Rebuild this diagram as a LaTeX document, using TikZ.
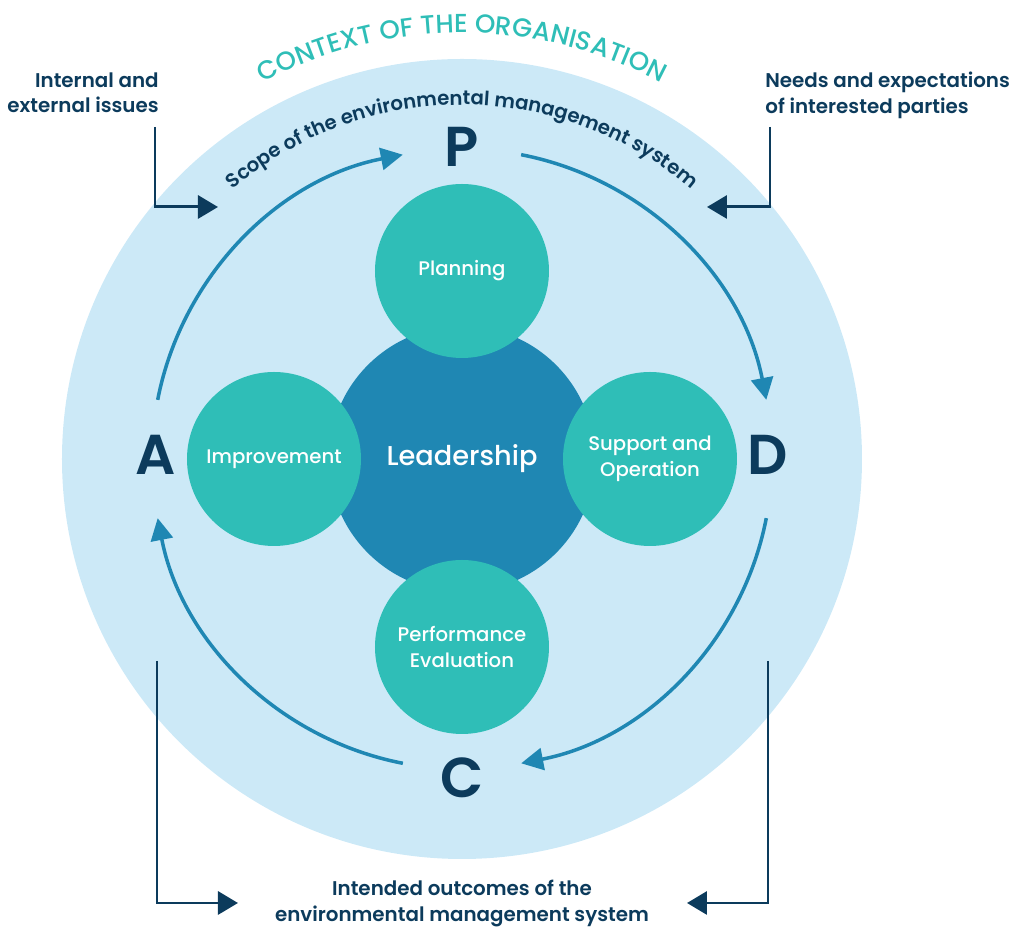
\documentclass[tikz,border=0pt]{standalone}
\usepackage{fontspec}
\setmainfont{Poppins}[BoldFont={Poppins SemiBold}]
\newfontfamily\poppinsmedium{Poppins Medium}
\usepackage{tikz}
\usetikzlibrary{arrows.meta,decorations.text}
\definecolor{skyback}{HTML}{CCE9F7}
\definecolor{cyteal}{HTML}{2FBEB7}
\definecolor{leadblue}{HTML}{1F87B3}
\definecolor{navy}{HTML}{0C3B5C}
\tikzset{>={Triangle[length=4mm,width=4.6mm]}}

\begin{document}
\begin{tikzpicture}[
	phasenode/.style={circle,fill=cyteal,minimum size=3.48cm,inner sep=0pt,text=white,align=center,font=\fontsize{11.2}{14.5}\selectfont\poppinsmedium},
	pdcaletter/.style={text=navy,inner sep=0pt,font=\fontsize{32}{32}\selectfont\bfseries},
	sidelabel/.style={text=navy,inner sep=0pt,font=\fontsize{11.3}{14.5}\selectfont\bfseries},
	pdcaarrow/.style={->,leadblue,line width=2pt,>={Triangle[length=4.4mm,width=4.4mm]}},
	bracketarrow/.style={->,navy,line width=1.7pt}]
			\useasboundingbox (-9.24,-9.36) rectangle (11.1,9.18);
			\node (context) at (0,0) [circle,fill=skyback,minimum size=16cm,inner sep=0pt] {};
			\path[decorate,decoration={text along path,text align=center,
				text={|\color{cyteal}\fontsize{14.8}{14.8}\selectfont\poppinsmedium|CONTEXT OF THE ORGANISATION}}]
				(160:8.52) arc[start angle=160,end angle=20,radius=8.52];
			\path[decorate,decoration={text along path,text align=center,
				text={|\color{navy}\fontsize{11.2}{11.2}\selectfont\bfseries|Scope of the environmental management system}}]
				(160:7.08) arc[start angle=160,end angle=20,radius=7.08];
			\node (lead) at (0,0) [circle,fill=leadblue,minimum size=5.32cm,text=white,font=\fontsize{15.5}{18}\selectfont\poppinsmedium] {Leadership};
			\node (plan) at (0,3.76) [phasenode] {Planning};
			\node (impr) at (-3.76,0) [phasenode] {Improvement};
			\node (supp) at (3.76,0) [phasenode] {Support and\\Operation};
			\node (perf) at (0,-3.76) [phasenode] {Performance\\Evaluation};
			\node (P) at (0,6.24) [pdcaletter] {P};
			\node (D) at (6.12,0.08) [pdcaletter] {D};
			\node (C) at (0,-6.38) [pdcaletter] {C};
			\node (A) at (-6.12,0.08) [pdcaletter] {A};
			\coordinate (fromA) at (169:6.2);
			\coordinate (fromP) at (79:6.2);
			\coordinate (fromD) at (-11:6.2);
			\coordinate (fromC) at (-101:6.2);
			\draw[pdcaarrow] (fromA) arc[start angle=169,end angle=101,radius=6.2];
			\draw[pdcaarrow] (fromP) arc[start angle=79,end angle=11,radius=6.2];
			\draw[pdcaarrow] (fromD) arc[start angle=-11,end angle=-79,radius=6.2];
			\draw[pdcaarrow] (fromC) arc[start angle=-101,end angle=-169,radius=6.2];
			\node (issues) at (-6.06,7.74) [sidelabel,align=right,anchor=north east] {Internal and\\external issues};
			\node (needs) at (6.06,7.74) [sidelabel,align=left,anchor=north west] {Needs and expectations\\of interested parties};
			\node (outcomes) at (0,-8.42) [sidelabel,align=center,anchor=north] {Intended outcomes of the\\environmental management system};
			\coordinate (issuesIn) at (-4.88,5.04);
			\coordinate (needsIn) at (4.9,5.04);
			\coordinate (outLeft) at (-4.48,-8.88);
			\coordinate (outRight) at (4.5,-8.88);
			\draw[bracketarrow] (-6.14,6.64) |- (issuesIn);
			\draw[bracketarrow] (6.16,6.64) |- (needsIn);
			\draw[bracketarrow] (-6.1,-4.04) |- (outLeft);
			\draw[bracketarrow] (6.12,-4.04) |- (outRight);
		\end{tikzpicture}
\end{document}
